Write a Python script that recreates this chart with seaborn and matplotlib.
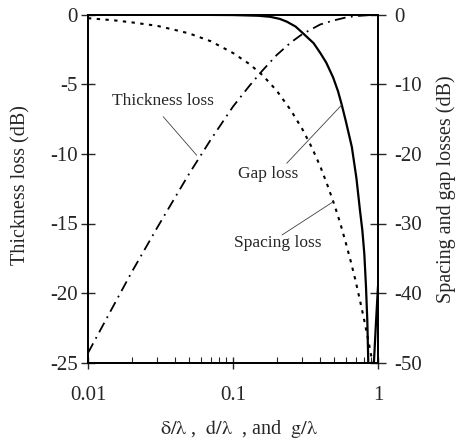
import matplotlib
matplotlib.use("Agg")
import matplotlib.pyplot as plt
import seaborn as sns
import pandas as pd

# ---- data ----
# Thickness loss (left axis, dB) vs delta/lambda
thick_x = [0.01, 0.015, 0.02, 0.03, 0.04, 0.05, 0.07, 0.1, 0.13, 0.16, 0.2, 0.25,
           0.3, 0.4, 0.5, 0.6, 0.7, 0.85, 1.0]
thick_y = [-24.3, -20.9, -18.5, -15.3, -13.1, -11.4, -9.0, -6.6, -5.1, -4.0, -2.9, -2.0,
           -1.4, -0.7, -0.4, -0.2, -0.1, -0.04, -0.02]

# Spacing loss (right axis, dB) vs d/lambda
space_x = [0.01, 0.015, 0.02, 0.03, 0.04, 0.05, 0.07, 0.1, 0.13, 0.16, 0.2, 0.25, 0.3,
           0.35, 0.4, 0.45, 0.5, 0.55, 0.6, 0.65, 0.7, 0.75, 0.8, 0.85, 0.9, 0.95]
space_y = [-0.5, -0.8, -1.1, -1.6, -2.2, -2.7, -3.8, -5.5, -7.1, -8.7, -10.9, -13.7, -16.4,
           -19.1, -21.8, -24.6, -27.3, -30.0, -32.8, -35.5, -38.2, -41.0, -43.7, -46.4,
           -49.1, -51.9]

# Gap loss (right axis, dB) vs g/lambda
gap_x = [0.01, 0.05, 0.1, 0.15, 0.18, 0.21, 0.235, 0.27, 0.305, 0.36, 0.40, 0.44, 0.49,
         0.53, 0.56, 0.60, 0.66, 0.71, 0.75, 0.78, 0.805, 0.826, 0.844, 0.857, 0.87,
         0.937, 0.97, 1.0]
gap_y = [0.0, -0.01, -0.05, -0.15, -0.3, -0.6, -1.0, -1.7, -2.7, -4.1, -5.5, -6.9, -9.0,
         -11.0, -12.8, -15.3, -19.0, -23.5, -28.0, -31.0, -34.4, -39.0, -44.0, -50.0, -65.0,
         -50.0, -44.0, -39.0]

left_ticks = [0, -5, -10, -15, -20, -25]
right_ticks = [0, -10, -20, -30, -40, -50]
x_ticks = [0.01, 0.1, 1]
x_ticklabels = ["0.01", "0.1", "1"]

thick_df = pd.DataFrame({"x": thick_x, "y": thick_y})
space_df = pd.DataFrame({"x": space_x, "y": space_y})
gap_df = pd.DataFrame({"x": gap_x, "y": gap_y})

sns.set_style("ticks")
plt.rcParams["font.family"] = ["Liberation Serif", "DejaVu Serif"]
plt.rcParams["mathtext.fontset"] = "stix"

fig = plt.figure(figsize=(4.58, 4.47), dpi=100)
ax = fig.add_axes([88 / 458, 1 - 362.7 / 447, 290 / 458, 348 / 447])
ax2 = ax.twinx()

sns.lineplot(data=thick_df, x="x", y="y", ax=ax, color="black", lw=1.3,
             linestyle=(0, (6, 3, 1, 3)), estimator=None, sort=False)
sns.lineplot(data=space_df, x="x", y="y", ax=ax2, color="black", lw=1.5,
             linestyle=(0, (1.6, 2.6)), estimator=None, sort=False)
sns.lineplot(data=gap_df, x="x", y="y", ax=ax2, color="black", lw=1.6,
             linestyle="-", estimator=None, sort=False)

ax.set_xscale("log")
ax.set_xlim(0.01, 1)
ax.set_ylim(-25, 0)
ax2.set_ylim(-50, 0)
ax.set_xticks(x_ticks)
ax.set_xticklabels(x_ticklabels)
ax.set_yticks(left_ticks)
ax.set_yticklabels([str(t) for t in left_ticks])
ax2.set_yticks(right_ticks)
ax2.set_yticklabels([str(t) for t in right_ticks])

for a in (ax, ax2):
    for s in a.spines.values():
        s.set_visible(True)
        s.set_linewidth(1.3)
        s.set_color("black")

ax.tick_params(axis="x", which="major", direction="inout", length=9, width=1.0,
               pad=12, labelsize=15)
ax.tick_params(axis="x", which="minor", direction="in", length=4, width=0.8)
ax.tick_params(axis="y", which="major", direction="inout", length=10, width=1.0,
               pad=2.5, labelsize=15)
ax2.tick_params(axis="y", which="major", direction="inout", length=11, width=1.0,
                pad=6, labelsize=15)
ax.tick_params(axis="y", which="minor", left=False)
ax2.tick_params(axis="y", which="minor", right=False)

ax.set_xlabel(r"$\mathrm{\delta/\lambda}$ ,  $\mathrm{d/\lambda}$  , and  $\mathrm{g/\lambda}$",
              fontsize=14.5)
ax.xaxis.set_label_coords(0.52, -0.16)
ax.set_ylabel("Thickness loss (dB)", fontsize=14.5)
ax.yaxis.set_label_coords(-0.2, 0.51)
ax2.set_ylabel("Spacing and gap losses (dB)", fontsize=14.5)
ax2.yaxis.set_label_coords(1.2, 0.50)

# annotations (right-axis data coordinates)
line_kw = dict(arrowstyle="-", lw=0.6, color="0.25", shrinkA=0, shrinkB=0)
ax2.text(0.0329, -12.4, "Thickness loss", fontsize=12.5, ha="center", va="center")
ax2.annotate("", xy=(0.0562, -20.2), xytext=(0.033, -14.65), arrowprops=line_kw)
ax2.text(0.1743, -22.9, "Gap loss", fontsize=12.5, ha="center", va="center")
ax2.annotate("", xy=(0.5618, -12.97), xytext=(0.2346, -21.35), arrowprops=line_kw)
ax2.text(0.2028, -32.8, "Spacing loss", fontsize=12.5, ha="center", va="center")
ax2.annotate("", xy=(0.4915, -26.87), xytext=(0.2178, -31.65), arrowprops=line_kw)

fig.savefig("out.png", dpi=100)
